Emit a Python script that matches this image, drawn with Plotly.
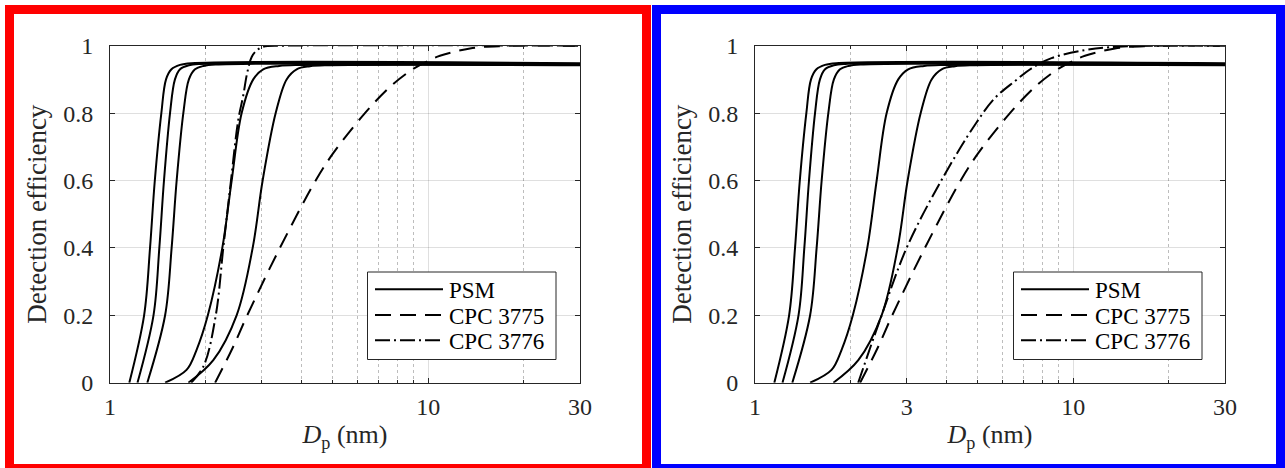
import numpy as np
import plotly.graph_objects as go

# ---------------- data ----------------
# PSM detection-efficiency curves (identical in both panels)
psm1_dp = [1.15, 1.28, 1.336, 1.383, 1.45, 1.50, 1.56, 1.66, 1.80, 30]
psm1_eff = [0.0, 0.2, 0.4, 0.6, 0.8, 0.9, 0.93, 0.943, 0.948, 0.948]
psm2_dp = [1.22, 1.37, 1.429, 1.478, 1.544, 1.60, 1.66, 1.77, 1.92, 30]
psm2_eff = [0.0, 0.2, 0.4, 0.6, 0.8, 0.9, 0.93, 0.942, 0.946, 0.946]
psm3_dp = [1.31, 1.49, 1.562, 1.62, 1.70, 1.77, 1.85, 1.97, 2.15, 30]
psm3_eff = [0.0, 0.2, 0.4, 0.6, 0.8, 0.9, 0.93, 0.940, 0.944, 0.944]
psm4_dp = [1.49, 1.74, 1.87, 2.03, 2.254, 2.412, 2.593, 2.82, 3.03, 3.4, 4.0, 30]
psm4_eff = [0.0, 0.038, 0.097, 0.2, 0.4, 0.6, 0.8, 0.9, 0.93, 0.940, 0.943, 0.943]
psm5_dp = [1.763, 2.112, 2.50, 2.808, 3.018, 3.317, 3.59, 3.86, 4.25, 4.9, 30]
psm5_eff = [0.0, 0.067, 0.2, 0.4, 0.6, 0.8, 0.9, 0.93, 0.939, 0.942, 0.942]

# CPC 3775 (same in both panels)
cpc3775_dp = [2.14, 2.42, 2.70, 3.42, 4.43, 5.03, 6.25, 7.59, 8.87, 9.89, 10.89, 13.53, 17.2, 30]
cpc3775_eff = [0.0, 0.1, 0.2, 0.4, 0.6, 0.681, 0.794, 0.878, 0.928, 0.953, 0.970, 0.992, 0.999, 1.0]

# CPC 3776, left panel
cpc3776a_dp = [1.80, 1.97, 2.15, 2.27, 2.40, 2.53, 2.62, 2.70, 2.79, 2.90, 3.03, 3.5, 30]
cpc3776a_eff = [0.0, 0.05, 0.2, 0.4, 0.6, 0.78, 0.85, 0.92, 0.967, 0.987, 0.997, 1.0, 1.0]

# CPC 3776, right panel
cpc3776b_dp = [2.11, 2.50, 2.996, 3.85, 4.95, 5.68, 6.56, 7.40, 8.55, 10.9, 13.9, 30]
cpc3776b_eff = [0.0, 0.2, 0.4, 0.6, 0.77, 0.845, 0.895, 0.933, 0.963, 0.987, 0.997, 1.0]

legend_names = ["PSM", "CPC 3775", "CPC 3776"]
y_ticks = [0, 0.2, 0.4, 0.6, 0.8, 1]
y_ticktext = ["0", "0.2", "0.4", "0.6", "0.8", "1"]
x_ticks_left = [1, 10, 30]
x_ticks_right = [1, 3, 10, 30]
x_minor_left = [2, 3, 4, 5, 6, 7, 8, 9, 20]
x_minor_right = [2, 4, 5, 6, 7, 8, 9, 20]

# ---------------- styling ----------------
W, H = 1285, 468
FONT = "Liberation Serif"
AX = "#262626"
GRID = "rgba(38,38,38,0.15)"
MGRID = "rgba(38,38,38,0.30)"
LW = 2.0
DASH = "16px,9px"
DASHDOT = "15px,4px,2px,4px"
DASHES = ["solid", DASH, DASHDOT]

def px_x(p):
    return p / W

def px_y(p):
    return (H - p) / H

fig = go.Figure()

psm_sets = [(psm1_dp, psm1_eff), (psm2_dp, psm2_eff), (psm3_dp, psm3_eff),
            (psm4_dp, psm4_eff), (psm5_dp, psm5_eff)]

panels = [
    ("x", "y", cpc3776a_dp, cpc3776a_eff, 0),
    ("x2", "y2", cpc3776b_dp, cpc3776b_eff, 646),
]

shapes = []
annotations = []

for xa, ya, d76, e76, off in panels:
    for i, (d, e) in enumerate(psm_sets):
        fig.add_trace(go.Scatter(
            x=d, y=e, mode="lines", xaxis=xa, yaxis=ya, showlegend=False,
            name=legend_names[0],
            line=dict(color="black", width=LW, shape="spline", smoothing=1.0)))
    fig.add_trace(go.Scatter(
        x=cpc3775_dp, y=cpc3775_eff, mode="lines", xaxis=xa, yaxis=ya,
        name=legend_names[1], showlegend=False,
        line=dict(color="black", width=LW, dash=DASH, shape="spline", smoothing=1.0)))
    fig.add_trace(go.Scatter(
        x=d76, y=e76, mode="lines", xaxis=xa, yaxis=ya,
        name=legend_names[2], showlegend=False,
        line=dict(color="black", width=LW, dash=DASHDOT, shape="spline", smoothing=1.0)))

    # legend box (drawn like MATLAB's legend)
    shapes.append(dict(type="rect", xref="paper", yref="paper",
                       x0=px_x(367.5 + off), x1=px_x(556 + off),
                       y0=px_y(359.5), y1=px_y(272),
                       line=dict(color=AX, width=1), fillcolor="white", layer="above"))
    for k, (name, dash) in enumerate(zip(legend_names, DASHES)):
        yk = [289.3, 315, 340.3][k]
        shapes.append(dict(type="line", xref="paper", yref="paper",
                           x0=px_x(375 + off), x1=px_x(443 + off),
                           y0=px_y(yk), y1=px_y(yk),
                           line=dict(color="black", width=LW, dash=dash), layer="above"))
        annotations.append(dict(xref="paper", yref="paper", x=px_x(447 + off), y=px_y(yk + 1),
                                xanchor="left", yanchor="middle", showarrow=False,
                                text=name, font=dict(family=FONT, size=23, color="black")))

tickfont = dict(family=FONT, size=24, color=AX)

def xaxis(domain, ticks, minor):
    return dict(
        domain=domain, type="log", range=[0, np.log10(30)], automargin=False,
        tickmode="array", tickvals=ticks, ticktext=[str(t) for t in ticks],
        showline=True, linecolor=AX, linewidth=1, mirror="allticks",
        ticks="inside", ticklen=5, tickcolor=AX, tickwidth=1,
        showgrid=True, gridcolor=GRID, gridwidth=1, zeroline=False,
        tickfont=tickfont, ticklabelstandoff=2,
        minor=dict(tickmode="array", tickvals=minor, ticks="inside", ticklen=3,
                   tickcolor=AX, showgrid=True, gridcolor=MGRID, griddash="dot",
                   gridwidth=1),
        title=dict(text="<i>D</i><sub>p</sub> (nm)",
                   font=dict(family=FONT, size=26, color=AX), standoff=6),
    )

def yaxis(anchor):
    return dict(
        domain=[px_y(382.7), px_y(45.7)], range=[0, 1], anchor=anchor, automargin=False,
        tickmode="array", tickvals=y_ticks, ticktext=y_ticktext,
        showline=True, linecolor=AX, linewidth=1, mirror="allticks",
        ticks="inside", ticklen=5, tickcolor=AX, tickwidth=1,
        showgrid=True, gridcolor=GRID, gridwidth=1, zeroline=False,
        tickfont=tickfont, ticklabelstandoff=11,
        title=dict(text="Detection efficiency",
                   font=dict(family=FONT, size=27, color=AX), standoff=8),
    )

shapes += [
    dict(type="rect", xref="paper", yref="paper",
         x0=px_x(9.5), x1=px_x(646.5), y0=px_y(468.5), y1=px_y(9.5),
         line=dict(color="#ff0000", width=9), layer="above"),
    dict(type="rect", xref="paper", yref="paper",
         x0=px_x(656.5), x1=px_x(1280.5), y0=px_y(468.5), y1=px_y(9.5),
         line=dict(color="#0000ff", width=9), layer="above"),
]

fig.update_layout(
    width=W, height=H, margin=dict(l=0, r=0, t=0, b=0, autoexpand=False),
    paper_bgcolor="white", plot_bgcolor="white",
    xaxis=xaxis([px_x(110), px_x(580)], x_ticks_left, x_minor_left) | dict(anchor="y"),
    yaxis=yaxis("x"),
    xaxis2=xaxis([px_x(755), px_x(1225)], x_ticks_right, x_minor_right) | dict(anchor="y2"),
    yaxis2=yaxis("x2"),
    shapes=shapes,
    annotations=annotations,
    showlegend=False,
)

fig.write_html("out.html", config={"displayModeBar": False},
               post_script="document.body.style.margin='0';")
